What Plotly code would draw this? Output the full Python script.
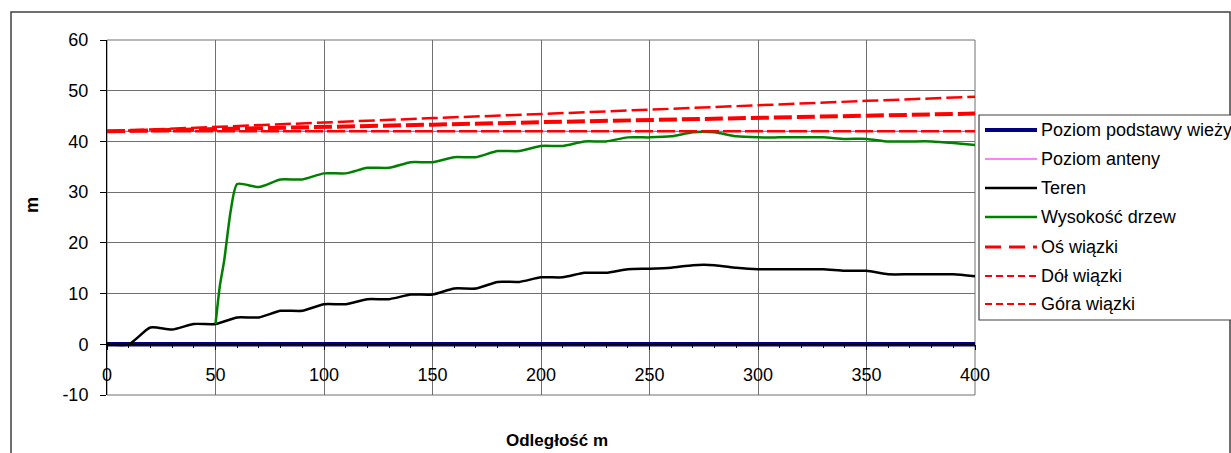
import plotly.graph_objects as go

# ---------------- data ----------------
x_base = [0, 400]
poziom_podstawy = [0, 0]

x_antena = [0, 400]
poziom_anteny = [42, 42]

x_teren = [0, 10, 20, 30, 40, 50, 60, 70, 80, 90, 100, 110, 120, 130, 140, 150,
           160, 170, 180, 190, 200, 210, 220, 230, 240, 250, 260, 270, 280, 290,
           300, 310, 320, 330, 340, 350, 360, 370, 380, 390, 400]
teren = [0.0, 0.0, 3.3, 2.9, 4.0, 4.0, 5.3, 5.3, 6.6, 6.6, 7.9, 7.9, 8.9, 8.9, 9.8, 9.8,
         11.0, 11.0, 12.3, 12.3, 13.2, 13.2, 14.1, 14.1, 14.8, 14.9, 15.1, 15.6, 15.6, 15.1,
         14.8, 14.8, 14.8, 14.8, 14.5, 14.5, 13.8, 13.8, 13.8, 13.8, 13.4]

x_drzewa = [50, 52, 54, 57, 60, 70, 80, 90, 100, 110, 120, 130, 140, 150,
            160, 170, 180, 190, 200, 210, 220, 230, 240, 250, 260, 270, 280, 290,
            300, 310, 320, 330, 340, 350, 360, 370, 380, 390, 400]
drzewa = [4.0, 11.5, 16.5, 26.3, 31.6, 31.0, 32.5, 32.5, 33.7, 33.7, 34.8, 34.8, 35.9, 35.9,
          36.9, 36.9, 38.1, 38.1, 39.1, 39.1, 40.0, 40.0, 40.8, 40.8, 41.0, 41.8, 41.8, 41.0,
          40.8, 40.8, 40.8, 40.8, 40.5, 40.5, 40.0, 40.0, 40.0, 39.7, 39.3]

x_wiazka = [0, 50, 100, 150, 200, 250, 300, 350, 400]
os_wiazki = [42.0, 42.4, 42.9, 43.3, 43.8, 44.2, 44.6, 45.1, 45.5]
dol_wiazki = [42.0, 42.0, 42.0, 42.0, 42.0, 42.0, 42.0, 42.0, 42.0]
gora_wiazki = [42.0, 42.9, 43.7, 44.6, 45.4, 46.3, 47.1, 48.0, 48.8]

x_ticks = [0, 50, 100, 150, 200, 250, 300, 350, 400]
y_ticks = [-10, 0, 10, 20, 30, 40, 50, 60]

legend_names = ["Poziom podstawy wieży", "Poziom anteny", "Teren", "Wysokość drzew",
                "Oś wiązki", "Dół wiązki", "Góra wiązki"]

# ---------------- layout geometry (pixels) ----------------
W, H = 1231, 453
PL, PR, PT, PB = 107, 975, 40, 395
FONT = "Arial, Liberation Sans, sans-serif"
FS = 18


def px(xp):
    return (xp - PL) / (PR - PL)


def py(yp):
    return (PB - yp) / (PB - PT)


NAVY, MAGENTA, BLACK, GREEN, RED = "#000080", "#FF00FF", "#000000", "#008000", "#FF0000"

styles = [
    dict(color=NAVY, width=4.5, dash="solid"),
    dict(color=MAGENTA, width=1, dash="solid"),
    dict(color=BLACK, width=2.5, dash="solid"),
    dict(color=GREEN, width=2.5, dash="solid"),
    dict(color=RED, width=4, dash="18px,5px"),
    dict(color=RED, width=2.5, dash="18px,4px"),
    dict(color=RED, width=2.5, dash="16px,5px"),
]

fig = go.Figure()
fig.add_trace(go.Scatter(x=x_base, y=poziom_podstawy, mode="lines", name=legend_names[0],
                         line=styles[0], showlegend=False))
fig.add_trace(go.Scatter(x=x_antena, y=poziom_anteny, mode="lines", name=legend_names[1],
                         line=styles[1], showlegend=False))
fig.add_trace(go.Scatter(x=x_teren, y=teren, mode="lines", name=legend_names[2],
                         line=dict(**styles[2], shape="spline", smoothing=0.6), showlegend=False))
fig.add_trace(go.Scatter(x=x_drzewa, y=drzewa, mode="lines", name=legend_names[3],
                         line=dict(**styles[3], shape="spline", smoothing=0.6), showlegend=False))
fig.add_trace(go.Scatter(x=x_wiazka, y=os_wiazki, mode="lines", name=legend_names[4],
                         line=styles[4], showlegend=False))
fig.add_trace(go.Scatter(x=x_wiazka, y=dol_wiazki, mode="lines", name=legend_names[5],
                         line=styles[5], showlegend=False))
fig.add_trace(go.Scatter(x=x_wiazka, y=gora_wiazki, mode="lines", name=legend_names[6],
                         line=styles[6], showlegend=False))

shapes = []
annotations = []

# chart outer border
shapes.append(dict(type="rect", xref="paper", yref="paper",
                   x0=px(11), x1=px(1230), y0=py(470), y1=py(12),
                   line=dict(color="#404040", width=1.5), layer="below"))
# plot area frame
shapes.append(dict(type="rect", xref="paper", yref="paper",
                   x0=0, x1=1, y0=0, y1=1,
                   line=dict(color="#707070", width=1), layer="below"))

# legend box
shapes.append(dict(type="rect", xref="paper", yref="paper",
                   x0=px(979), x1=px(1232), y0=py(320), y1=py(115),
                   line=dict(color="#404040", width=1.2), fillcolor="white", layer="above"))
legend_dash = ["solid", "solid", "solid", "solid", "16px,8px", "7px,4px", "7px,4px"]
legend_width = [4, 1, 2.5, 2.5, 3, 2, 2]
row_y = [130, 159, 188, 217, 247, 276, 304]
for i, name in enumerate(legend_names):
    shapes.append(dict(type="line", xref="paper", yref="paper",
                       x0=px(985), x1=px(1037), y0=py(row_y[i]), y1=py(row_y[i]),
                       line=dict(color=styles[i]["color"], width=legend_width[i], dash=legend_dash[i]),
                       layer="above"))
    annotations.append(dict(xref="paper", yref="paper", x=px(1039), y=py(row_y[i]),
                            text=name, showarrow=False, xanchor="left", yanchor="middle",
                            font=dict(family=FONT, size=FS, color="black")))

# axis titles
annotations.append(dict(xref="paper", yref="paper", x=px(557), y=py(440), text="<b>Odległość m</b>",
                        showarrow=False, xanchor="center", yanchor="middle",
                        font=dict(family=FONT, size=17, color="black")))
annotations.append(dict(xref="paper", yref="paper", x=px(32), y=py(205), text="<b>m</b>",
                        showarrow=False, xanchor="center", yanchor="middle", textangle=-90,
                        font=dict(family=FONT, size=18, color="black")))

fig.update_layout(
    width=W, height=H,
    margin=dict(l=PL, r=W - PR, t=PT, b=H - PB, pad=0),
    paper_bgcolor="white", plot_bgcolor="white",
    showlegend=False,
    font=dict(family=FONT, size=FS, color="black"),
    shapes=shapes, annotations=annotations,
    xaxis=dict(range=[0, 400], tickvals=x_ticks, ticktext=[str(v) for v in x_ticks],
               showgrid=True, gridcolor="#707070", gridwidth=1,
               anchor="free", position=10 / 70,
               showline=True, linecolor="black", linewidth=1,
               ticks="outside", ticklen=5, tickcolor="black",
               minor=dict(dtick=10, ticks="outside", ticklen=3, tickcolor="black", showgrid=False),
               ticklabelstandoff=9, zeroline=False,
               tickfont=dict(family=FONT, size=FS, color="black")),
    yaxis=dict(range=[-10, 60], tickvals=y_ticks, ticktext=[str(v) for v in y_ticks],
               showgrid=True, gridcolor="#707070", gridwidth=1,
               showline=True, linecolor="black", linewidth=1,
               ticks="outside", ticklen=6, tickcolor="black",
               ticklabelstandoff=8, zeroline=False,
               tickfont=dict(family=FONT, size=FS, color="black")),
)

fig.write_html("out.html")
